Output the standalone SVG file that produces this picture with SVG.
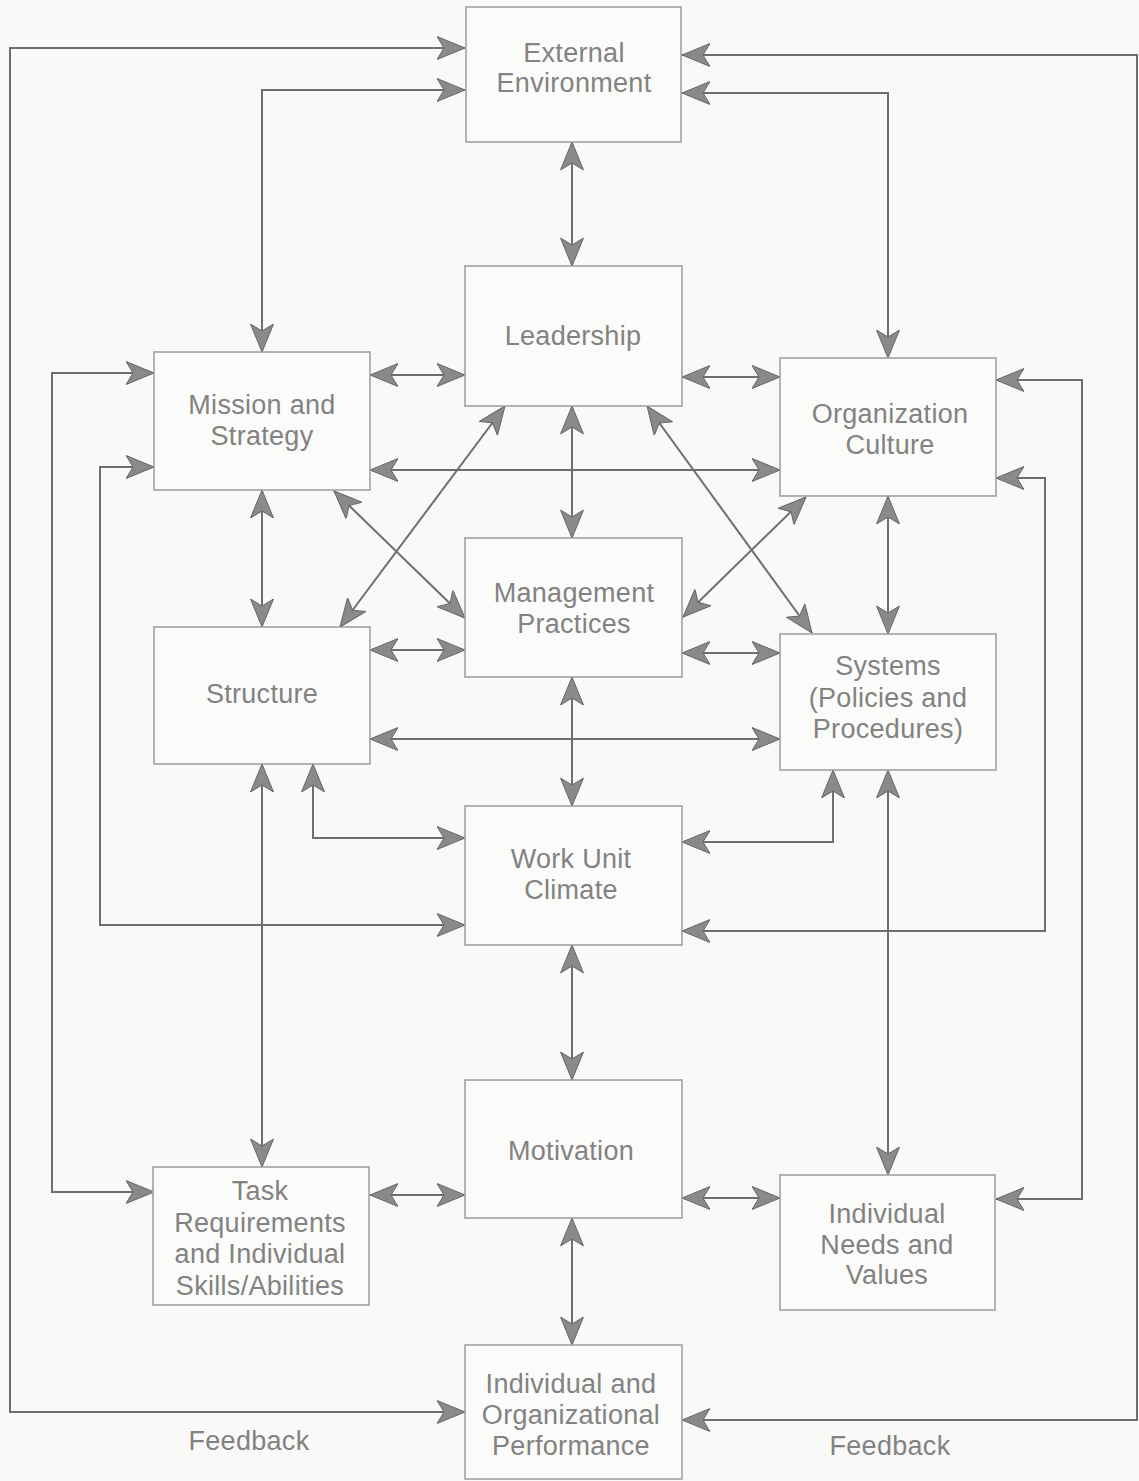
<svg xmlns="http://www.w3.org/2000/svg" width="1139" height="1481" viewBox="0 0 1139 1481">
<style>
.box{fill:#fbfbf9;stroke:#a2a2a2;stroke-width:1.6}
.t{font-family:"Liberation Sans",Arial,sans-serif;font-size:27px;letter-spacing:0.3px;fill:#828282;text-anchor:middle}
.c{fill:none;stroke:#6e6e6e;stroke-width:2;marker-start:url(#ah);marker-end:url(#ah)}
</style>
<defs>
<marker id="ah" viewBox="0 0 28 24" refX="28" refY="12" markerWidth="28" markerHeight="24" markerUnits="userSpaceOnUse" orient="auto-start-reverse">
<path d="M28,12 L0,0.5 L7,12 L0,23.5 Z" fill="#8a8a8a" stroke="#666666" stroke-width="1"/>
</marker>
</defs>
<rect width="1139" height="1481" fill="#f9f9f7"/>
<g id="connectors">
<path class="c" d="M465,48 H10 V1412 H465"/>
<path class="c" d="M682,55 H1137 V1420 H682"/>
<path class="c" d="M465,90 H262 V352"/>
<path class="c" d="M682,93 H888 V358"/>
<path class="c" d="M572,142 V266"/>
<path class="c" d="M370,375 H465"/>
<path class="c" d="M682,377 H780"/>
<path class="c" d="M370,470 H780"/>
<path class="c" d="M262,490 V627"/>
<path class="c" d="M334,491 L465,618"/>
<path class="c" d="M505,406 L340,627"/>
<path class="c" d="M572,406 V538"/>
<path class="c" d="M647,406 L812,633"/>
<path class="c" d="M806,497 L683,617"/>
<path class="c" d="M888,496 V634"/>
<path class="c" d="M370,650 H465"/>
<path class="c" d="M682,653 H780"/>
<path class="c" d="M370,739 H780"/>
<path class="c" d="M572,677 V806"/>
<path class="c" d="M313,764 V838 H465"/>
<path class="c" d="M833,770 V842 H682"/>
<path class="c" d="M154,467 H100 V925 H465"/>
<path class="c" d="M996,478 H1045 V931 H682"/>
<path class="c" d="M262,764 V1167"/>
<path class="c" d="M154,373 H52 V1192 H154"/>
<path class="c" d="M996,380 H1082 V1199 H996"/>
<path class="c" d="M888,770 V1175"/>
<path class="c" d="M572,945 V1080"/>
<path class="c" d="M370,1195 H465"/>
<path class="c" d="M682,1198 H780"/>
<path class="c" d="M572,1218 V1345"/>
</g>
<g id="external"><rect class="box" x="466" y="7" width="215" height="135"/><text class="t" x="574" y="62">External</text><text class="t" x="574" y="92">Environment</text></g>
<g id="leadership"><rect class="box" x="465" y="266" width="217" height="140"/><text class="t" x="573" y="345">Leadership</text></g>
<g id="mission"><rect class="box" x="154" y="352" width="216" height="138"/><text class="t" x="262" y="414">Mission and</text><text class="t" x="262" y="445">Strategy</text></g>
<g id="culture"><rect class="box" x="780" y="358" width="216" height="138"/><text class="t" x="890" y="423">Organization</text><text class="t" x="890" y="454">Culture</text></g>
<g id="management"><rect class="box" x="465" y="538" width="217" height="139"/><text class="t" x="574" y="602">Management</text><text class="t" x="574" y="633">Practices</text></g>
<g id="structure"><rect class="box" x="154" y="627" width="216" height="137"/><text class="t" x="262" y="703">Structure</text></g>
<g id="systems"><rect class="box" x="780" y="634" width="216" height="136"/><text class="t" x="888" y="675">Systems</text><text class="t" x="888" y="707">(Policies and</text><text class="t" x="888" y="738">Procedures)</text></g>
<g id="workunit"><rect class="box" x="465" y="806" width="217" height="139"/><text class="t" x="571" y="868">Work Unit</text><text class="t" x="571" y="899">Climate</text></g>
<g id="motivation"><rect class="box" x="465" y="1080" width="217" height="138"/><text class="t" x="571" y="1160">Motivation</text></g>
<g id="task"><rect class="box" x="153" y="1167" width="216" height="138"/><text class="t" x="260" y="1200">Task</text><text class="t" x="260" y="1232">Requirements</text><text class="t" x="260" y="1263">and Individual</text><text class="t" x="260" y="1295">Skills/Abilities</text></g>
<g id="needs"><rect class="box" x="780" y="1175" width="215" height="135"/><text class="t" x="887" y="1223">Individual</text><text class="t" x="887" y="1254">Needs and</text><text class="t" x="887" y="1284">Values</text></g>
<g id="performance"><rect class="box" x="465" y="1345" width="217" height="134"/><text class="t" x="571" y="1393">Individual and</text><text class="t" x="571" y="1424">Organizational</text><text class="t" x="571" y="1455">Performance</text></g>
<g id="labels"><text class="t" x="249" y="1450">Feedback</text><text class="t" x="890" y="1455">Feedback</text></g>
</svg>
